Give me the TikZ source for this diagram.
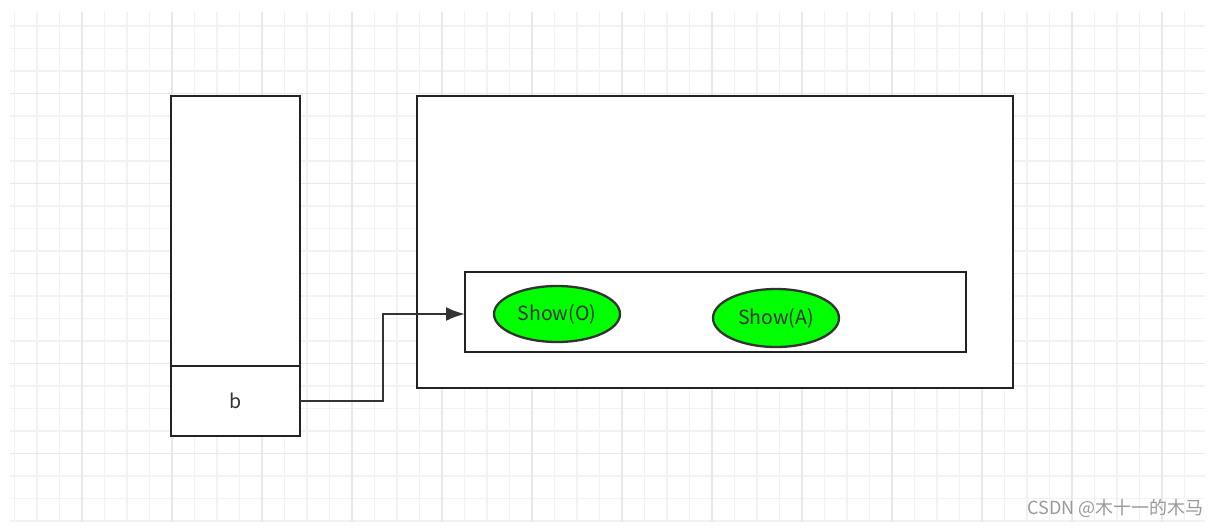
\documentclass[tikz,border=0pt]{standalone}
\usepackage{fontspec}
\setmainfont{Noto Sans CJK SC}
\usetikzlibrary{positioning}
\usetikzlibrary{shapes.geometric}
\usetikzlibrary{arrows.meta}
\definecolor{gridminor}{HTML}{F2F2F2}
\definecolor{gridmajor}{HTML}{E8E8E8}
\definecolor{edge}{HTML}{222222}
\definecolor{wire}{HTML}{333333}
\definecolor{showgreen}{HTML}{00FF00}
\tikzset{
    frame/.style = {rectangle, draw=edge, fill=white, line width=2.3pt, inner sep=0pt, outer sep=0pt},
    method/.style = {ellipse, draw=wire, fill=showgreen, line width=2.3pt, inner sep=0pt,
        minimum width=126pt, text=wire, font=\fontsize{19.5}{23}\selectfont},
    watermark/.style = {text=gray!80, font=\fontsize{18}{21}\selectfont}}

\begin{document}
\begin{tikzpicture}[x=1pt, y=-1pt,
    link/.style = {draw=wire, line width=2.3pt, -{Latex[length=19pt, width=14pt]}}
    ]
    \useasboundingbox (0,0) rectangle (1222,527);
    % background grid
    \foreach \k in {0,...,52}
        \draw[gridminor, line width=1.2pt] (14.5+22.5*\k,12) -- (14.5+22.5*\k,522);
    \foreach \k in {0,...,22}
        \draw[gridminor, line width=1.2pt] (10,26+22.5*\k) -- (1205,26+22.5*\k);
    \foreach \x in {82,172,...,1162}
        \draw[gridmajor, line width=1.2pt] (\x,12) -- (\x,522);
    \foreach \y in {93.5,183.5,273.5,363.5,453.5}
        \draw[gridmajor, line width=1.2pt] (10,\y) -- (1205,\y);
    % stack frame
    \node[frame, minimum width=129pt, minimum height=270pt] (stack) at (235.5,231) {};
    \node[frame, minimum width=129pt, minimum height=70pt, text=wire,
        font=\fontsize{19.5}{23}\selectfont] (cellb) at (235.5,401) {\raisebox{-3pt}{b}};
    % heap object
    \node[frame, minimum width=596pt, minimum height=292pt] (heap) at (715,242) {};
    \node[frame, minimum width=501pt, minimum height=80pt] (table) at (715.5,312) {};
    \node[method, minimum height=56pt] (showO) at (557,314) {Show(O)};
    \node[method, minimum height=58pt] (showA) at (776,318) {Show(A)};
    % reference
    \coordinate (turn) at (383,314);
    \draw[link] (cellb.east) -| (turn) -- (turn -| table.west);
    \node[watermark, anchor=east] (credit) at (1207,508) {CSDN @木十一的木马};
\end{tikzpicture}
\end{document}
